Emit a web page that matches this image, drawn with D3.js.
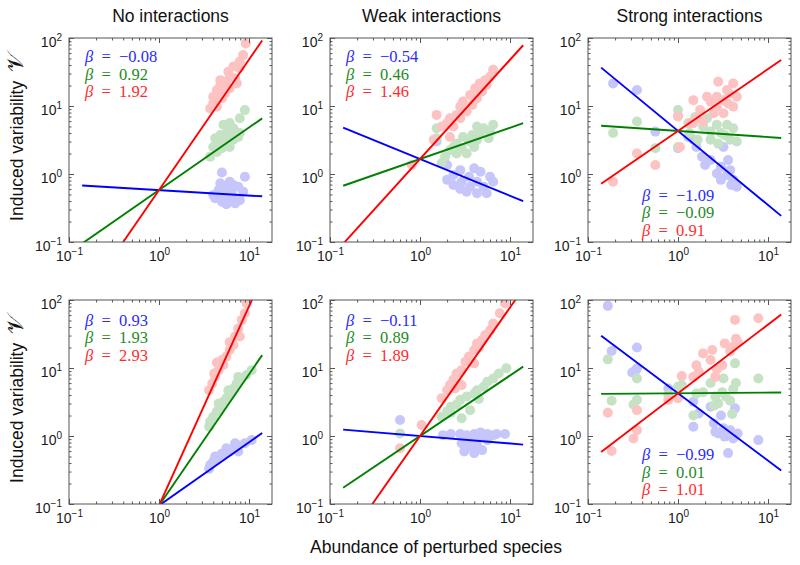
<!DOCTYPE html>
<html>
<head>
<meta charset="utf-8">
<script src="https://cdn.jsdelivr.net/npm/d3@7"></script>
<style>
  body { margin: 0; background: #fff; }
  svg { display: block; font-family: "Liberation Sans", Arial, sans-serif; }
</style>
</head>
<body>
<div id="chart"></div>
<script>
// column titles and fitted slopes (blue, green, red) for the six panels
const titles = ["No interactions", "Weak interactions", "Strong interactions"];
const betaBlue = [-0.08, -0.54, -1.09, 0.93, -0.11, -0.99];
const betaGreen = [0.92, 0.46, -0.09, 1.93, 0.89, 0.01];
const betaRed = [1.92, 1.46, 0.91, 2.93, 1.89, 1.01];
// value of V where abundance = 1 (all three lines cross there)
const crossValue = [0.58, 1.66, 4.3, 0.095, 1.0, 4.25];
const lineRange = [0.14, 14];

const xMajor = [0.1, 1, 10];
const yMajor = [0.1, 1, 10, 100];

// scatter points [abundance, variability]
const noneBlueTop = [[5.0,1.05],[9.0,0.91],[6.1,0.77],[4.8,0.73],[6.7,0.69],[7.6,0.65],[5.6,0.62],[4.6,0.58],[6.4,0.55],[8.6,0.55],[5.2,0.52],[4.0,0.49],[4.8,0.46],[6.7,0.46],[5.9,0.44],[7.9,0.41],[5.0,0.39],[4.2,0.44],[7.0,0.37],[5.6,0.36]];
const noneGreenTop = [[9.0,8.7],[7.9,6.6],[6.1,5.6],[5.2,5.3],[6.7,4.7],[7.0,4.2],[5.6,4.0],[4.8,3.75],[6.1,3.5],[7.6,3.5],[4.2,3.35],[5.2,3.2],[6.7,3.2],[4.6,2.8],[5.6,2.7],[4.0,2.5],[5.0,2.4],[4.4,2.1],[3.7,1.8],[6.1,2.5],[7.9,4.0]];
const noneRedTop = [[9.2,83],[8.6,56],[7.9,45],[6.7,38],[7.8,36],[5.9,32],[6.1,27],[7.0,25.5],[5.6,22.8],[4.8,24],[4.8,20.4],[5.3,18.8],[4.4,17.2],[6.1,18.2],[7.3,21.5],[5.4,15.4],[4.6,14.5],[4.0,13.7],[5.0,13.0],[4.2,11.6],[4.4,9.8],[3.7,9.2],[4.0,10.9]];

const weakBlueTop = [[2.0,1.36],[4.0,1.21],[2.8,1.14],[4.7,1.08],[2.35,0.97],[3.5,0.91],[6.0,0.91],[2.0,0.82],[2.9,0.77],[4.3,0.77],[6.5,0.77],[2.35,0.69],[3.6,0.65],[5.1,0.65],[3.3,0.55],[4.3,0.52],[5.5,0.52],[2.8,0.60],[1.53,3.0]];
const weakGreenTop = [[6.5,5.3],[5.1,4.7],[4.3,5.0],[6.0,4.2],[4.7,4.0],[3.8,3.75],[3.0,3.5],[5.8,3.35],[4.3,3.2],[3.5,3.0],[2.55,2.8],[4.0,2.5],[2.9,2.4],[2.15,2.25],[2.55,2.0],[3.3,2.0],[1.9,1.8],[1.53,4.7],[1.53,3.35],[1.74,1.44],[2.35,2.5]];
const weakRedTop = [[6.5,34],[6.0,27],[5.3,24],[4.6,21.5],[5.5,20.4],[4.1,18.2],[4.9,16.3],[3.6,14.5],[4.3,13.0],[3.0,11.6],[3.8,10.4],[2.8,9.8],[3.3,8.3],[2.55,7.4],[2.15,6.6],[1.53,7.4],[2.0,5.6],[1.74,5.0],[2.35,5.0],[2.15,3.5],[1.42,3.2],[0.81,1.36],[2.8,6.6],[4.0,12.3]];

const strongBlueTop = [[0.19,21.5],[0.35,17.2],[0.56,4.2],[1.0,7.2],[1.0,2.4],[1.3,3.5],[1.48,3.2],[1.6,2.5],[1.85,1.8],[2.0,1.36],[2.3,1.6],[2.7,1.02],[3.0,1.28],[3.5,0.97],[3.8,1.14],[4.1,0.82],[4.5,0.65],[3.2,2.5],[3.6,1.6],[3.0,0.82],[3.9,0.69]];
const strongGreenTop = [[0.19,4.0],[0.35,5.9],[0.56,2.4],[1.0,8.7],[1.0,2.5],[1.3,5.6],[1.55,6.9],[1.35,4.0],[1.65,3.2],[2.1,6.6],[2.3,4.2],[2.7,5.3],[2.8,2.8],[3.5,5.3],[3.3,3.75],[4.1,4.7],[4.5,3.0],[3.8,3.2],[2.3,3.2],[1.9,5.0],[3.0,4.0]];
const strongRedTop = [[0.19,0.77],[0.35,2.0],[0.56,1.36],[1.05,2.5],[1.0,7.0],[1.48,12.2],[1.76,8.7],[1.6,6.6],[1.35,5.6],[1.9,5.9],[2.1,13.7],[2.7,13.7],[2.8,22.8],[3.5,17.2],[3.2,12.2],[3.7,15.3],[4.1,21.5],[4.5,13.7],[3.6,10.9],[2.7,9.8],[4.1,9.8],[2.5,7.8],[3.2,7.8],[2.3,11.6],[1.48,5.6]];

const noneBlueBottom = [[10.7,0.87],[9.0,0.78],[7.6,0.73],[6.7,0.66],[6.1,0.59],[5.4,0.56],[4.8,0.52],[4.4,0.47],[4.0,0.42],[3.7,0.375],[3.6,0.33],[7.0,0.78],[5.6,0.66],[5.0,0.55],[4.2,0.50],[7.6,0.59]];
const noneGreenBottom = [[10.7,9.3],[9.4,7.9],[7.9,7.0],[7.3,5.9],[6.7,5.0],[6.1,4.2],[5.6,3.6],[5.2,3.2],[4.8,2.7],[4.4,2.3],[4.0,1.92],[3.7,1.63],[3.6,1.37],[7.6,7.4],[5.9,4.7],[4.6,3.0]];
const noneRedBottom = [[9.4,89],[9.0,64],[8.3,51],[7.6,38],[7.0,29],[6.7,21.8],[6.1,18.4],[5.6,14.7],[5.2,11.1],[4.6,9.3],[4.2,7.4],[3.9,5.9],[3.6,4.7],[7.9,29],[6.1,24],[5.0,13.1],[4.4,12],[4.1,8.3]];

const weakBlueBottom = [[0.6,1.72],[1.8,1.03],[2.2,1.07],[2.8,1.07],[3.3,1.03],[4.0,1.07],[4.7,1.13],[5.6,1.07],[6.5,1.03],[8.8,1.07],[7.1,1.07],[4.5,0.98],[2.9,0.78],[3.5,0.70],[4.3,0.74],[3.1,0.59],[4.0,0.56],[4.9,0.62],[5.6,0.87],[3.6,0.92]];
const weakGreenBottom = [[9.1,9.9],[7.5,8.3],[6.5,7.0],[5.6,6.3],[5.1,5.3],[4.3,4.7],[4.0,4.2],[3.3,3.8],[2.8,3.4],[2.55,2.9],[2.2,2.7],[2.0,2.3],[1.74,1.92],[2.9,1.82],[3.6,2.4],[4.5,3.5],[0.6,1.09],[2.2,2.2]];
const weakRedBottom = [[8.8,89],[7.7,64],[6.5,45],[6.0,36],[5.3,30.5],[4.9,25.8],[4.3,23],[4.0,18.4],[3.5,14.7],[3.2,12.4],[2.9,9.3],[2.55,8.3],[2.35,6.7],[2.15,5.6],[2.0,4.7],[1.74,3.6],[2.9,5.6],[4.0,11.7],[1.04,1.45],[0.6,0.66],[4.5,20],[2.45,5.0]];

const strongBlueBottom = [[0.166,82],[0.183,17.8],[0.35,20],[0.34,9.3],[0.35,9.9],[0.31,8.6],[0.78,5.0],[1.48,3.2],[1.7,2.15],[1.48,1.37],[2.3,2.7],[2.5,1.54],[3.0,2.0],[3.2,1.3],[2.8,1.09],[3.3,0.98],[3.8,1.22],[4.1,0.92],[4.3,2.55],[4.6,1.09],[3.6,0.56],[7.8,0.87],[2.6,1.15]];
const strongGreenBottom = [[0.166,13.4],[0.183,3.3],[0.35,7.0],[0.32,2.9],[0.35,3.4],[0.78,4.0],[1.0,5.3],[1.1,5.6],[1.48,2.0],[1.6,4.2],[1.9,4.4],[2.3,6.0],[2.6,3.8],[2.8,3.0],[3.2,7.0],[3.4,3.8],[3.8,3.3],[4.1,4.9],[4.3,11.7],[4.4,6.0],[4.0,2.1],[7.8,7.0],[2.5,2.8],[3.1,4.4]];
const strongRedBottom = [[0.166,2.2],[0.183,0.60],[0.35,2.4],[0.32,0.92],[0.35,1.22],[0.78,3.4],[1.0,3.6],[1.1,7.6],[1.48,7.4],[1.7,8.9],[1.9,16.4],[2.3,13.1],[2.4,18.4],[2.7,9.5],[3.1,11.0],[3.3,23],[3.8,17.6],[4.1,20.6],[4.3,51],[4.4,27],[4.6,24],[7.8,54],[1.6,11],[2.6,7.4]];

const panelPoints = [
  [noneBlueTop, noneGreenTop, noneRedTop],
  [weakBlueTop, weakGreenTop, weakRedTop],
  [strongBlueTop, strongGreenTop, strongRedTop],
  [noneBlueBottom, noneGreenBottom, noneRedBottom],
  [weakBlueBottom, weakGreenBottom, weakRedBottom],
  [strongBlueBottom, strongGreenBottom, strongRedBottom],
];

const lineColors = ["#0000ff", "#008000", "#ff0000"];
const textColors = ["#2b2bff", "#1f8a1f", "#ff2b2b"];
const dotColors = ["#c6c6fb", "#c5e2c5", "#fdc3c3"];
const frameColor = "#555";

const panelW = 203, panelH = 204;
const colLeft = [69, 330, 588];
const rowTop = [38, 300];

const svg = d3.select("#chart").append("svg").attr("width", 800).attr("height", 565);

const x = d3.scaleLog().domain([0.1, 18]).range([0, panelW]);
const y = d3.scaleLog().domain([0.1, 100]).range([panelH, 0]);

const isMajor = (d) => Math.abs(Math.log10(d) - Math.round(Math.log10(d))) < 1e-6;
const xMinor = x.ticks().filter((d) => !isMajor(d));
const yMinor = y.ticks().filter((d) => !isMajor(d));

const expText = (d) => String(Math.round(Math.log10(d))).replace("-", "\u2212");
const betaText = (b) => d3.format(".2f")(b).replace("-", "\u2212");

let addAxis = (g, axis, tr) => {
  const a = g.append("g").attr("transform", tr).call(axis);
  a.select(".domain").remove();
  a.selectAll(".tick line").attr("stroke", frameColor);
  a.attr("font-family", null).attr("font-size", 14);
  return a;
};

let powerLabels = (a, dy) => {
  a.selectAll(".tick text").each(function (d) {
    const t = d3.select(this).text(null).attr("fill", "#1a1a1a").attr("dy", dy);
    t.append("tspan").text("10");
    t.append("tspan").attr("dy", -6).attr("font-size", 10).text(expText(d));
  });
};

let drawPanel = (i) => {
  const col = i % 3, row = Math.floor(i / 3);
  const g = svg.append("g").attr("transform", `translate(${colLeft[col]},${rowTop[row]})`);

  g.append("clipPath").attr("id", "clip" + i)
    .append("rect").attr("width", panelW).attr("height", panelH);

  const plot = g.append("g").attr("clip-path", `url(#clip${i})`);

  // faded scatter first (blue, green, red)
  panelPoints[i].forEach((pts, k) => {
    plot.append("g").selectAll("circle")
      .data(pts)
      .enter()
      .append("circle")
      .attr("cx", (d) => x(d[0]))
      .attr("cy", (d) => y(d[1]))
      .attr("r", 5)
      .attr("fill", dotColors[k]);
  });

  // fitted power laws through the common crossing point
  const betas = [betaBlue[i], betaGreen[i], betaRed[i]];
  const line = d3.line().x((d) => x(d[0])).y((d) => y(d[1]));
  betas.forEach((b, k) => {
    const ends = lineRange.map((a) => [a, crossValue[i] * Math.pow(a, b)]);
    plot.append("path")
      .attr("d", line(ends))
      .attr("fill", "none")
      .attr("stroke", lineColors[k])
      .attr("stroke-width", 1.9);
  });

  g.append("rect")
    .attr("width", panelW)
    .attr("height", panelH)
    .attr("fill", "none")
    .attr("stroke", frameColor)
    .attr("stroke-width", 1);

  // major ticks with labels on bottom / left
  const bx = addAxis(g, d3.axisBottom(x).tickValues(xMajor).tickSizeInner(-5).tickSizeOuter(0).tickPadding(9).tickFormat(() => ""), `translate(0,${panelH})`);
  powerLabels(bx, "0.71em");
  const ly = addAxis(g, d3.axisLeft(y).tickValues(yMajor).tickSizeInner(-5).tickSizeOuter(0).tickPadding(7).tickFormat(() => ""), "translate(0,0)");
  powerLabels(ly, "0.6em");

  // mirrored ticks + minor ticks, all inside the box
  addAxis(g, d3.axisTop(x).tickValues(xMajor).tickSizeInner(-5).tickSizeOuter(0).tickFormat(() => ""), "translate(0,0)");
  addAxis(g, d3.axisRight(y).tickValues(yMajor).tickSizeInner(-5).tickSizeOuter(0).tickFormat(() => ""), `translate(${panelW},0)`);
  addAxis(g, d3.axisBottom(x).tickValues(xMinor).tickSizeInner(-2.5).tickSizeOuter(0).tickFormat(() => ""), `translate(0,${panelH})`);
  addAxis(g, d3.axisTop(x).tickValues(xMinor).tickSizeInner(-2.5).tickSizeOuter(0).tickFormat(() => ""), "translate(0,0)");
  addAxis(g, d3.axisLeft(y).tickValues(yMinor).tickSizeInner(-2.5).tickSizeOuter(0).tickFormat(() => ""), "translate(0,0)");
  addAxis(g, d3.axisRight(y).tickValues(yMinor).tickSizeInner(-2.5).tickSizeOuter(0).tickFormat(() => ""), `translate(${panelW},0)`);

  // beta labels, top-left except for strong interactions (bottom)
  const strong = col === 2;
  const tx = strong ? 54 : 16;
  const ty = strong ? (row === 0 ? 162.5 : 160) : (row === 0 ? 24 : 25.5);
  betas.forEach((b, k) => {
    const t = g.append("text")
      .attr("x", tx)
      .attr("y", ty + k * 17.6)
      .attr("font-family", "'Liberation Serif', 'Times New Roman', serif")
      .attr("font-size", 16.5)
      .attr("fill", textColors[k]);
    t.append("tspan").attr("font-style", "italic").text("\u03B2");
    t.append("tspan").text("\u2002=\u2002" + betaText(b));
  });

  if (row === 0) {
    g.append("text")
      .attr("x", panelW / 2)
      .attr("y", -16)
      .attr("text-anchor", "middle")
      .attr("font-size", 17.5)
      .attr("fill", "#111")
      .text(titles[col]);
  }
  if (col === 0) {
    const yl = g.append("text")
      .attr("transform", `translate(${23 - colLeft[0]},${panelH / 2 - 3}) rotate(-90)`)
      .attr("text-anchor", "middle")
      .attr("font-size", 17.5)
      .attr("fill", "#111");
    yl.append("tspan").text("Induced variability\u2002");
    yl.append("tspan").attr("font-size", 23).text("\uD835\uDCB1");
  }
};

for (let i = 0; i < 6; i++) drawPanel(i);

svg.append("text")
  .attr("x", 436)
  .attr("y", 553)
  .attr("text-anchor", "middle")
  .attr("font-size", 17.5)
  .attr("fill", "#111")
  .text("Abundance of perturbed species");
</script>
</body>
</html>
